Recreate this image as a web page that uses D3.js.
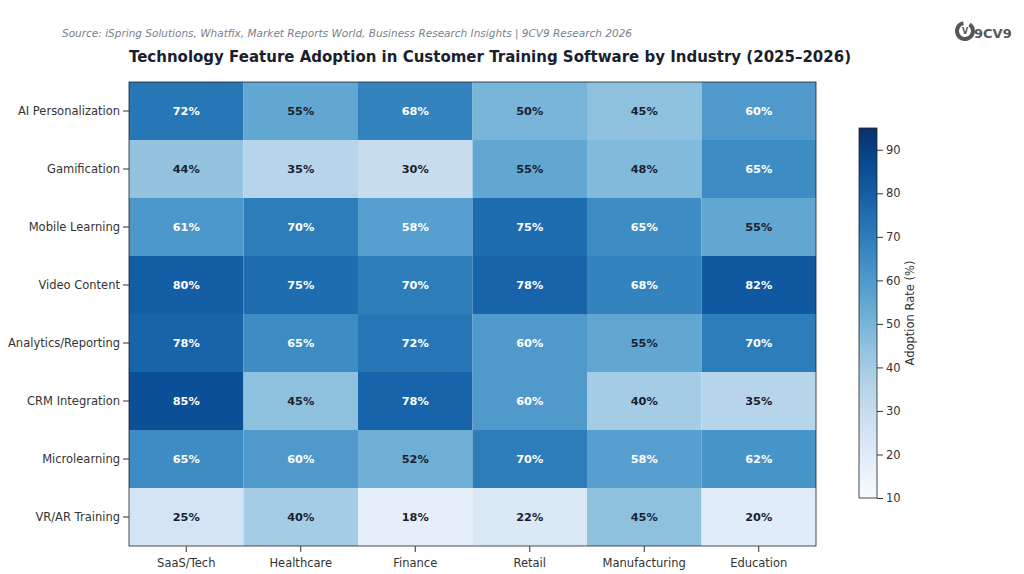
<!DOCTYPE html>
<html><head><meta charset="utf-8">
<script src="https://cdn.jsdelivr.net/npm/d3@7"></script>
<style>body{margin:0;background:#fff;font-family:"DejaVu Sans",sans-serif}</style>
</head><body><svg id="c" width="1024" height="574"></svg>
<script>
const features = ["AI Personalization","Gamification","Mobile Learning","Video Content","Analytics/Reporting","CRM Integration","Microlearning","VR/AR Training"];
const industries = ["SaaS/Tech","Healthcare","Finance","Retail","Manufacturing","Education"];
const values = [
  [72,55,68,50,45,60],
  [44,35,30,55,48,65],
  [61,70,58,75,65,55],
  [80,75,70,78,68,82],
  [78,65,72,60,55,70],
  [85,45,78,60,40,35],
  [65,60,52,70,58,62],
  [25,40,18,22,45,20]
];
const cbTicks = [10,20,30,40,50,60,70,80,90];

const svg = d3.select("#c");
const x = d3.scaleBand().domain(industries).range([129,816]);
const y = d3.scaleBand().domain(features).range([82,546]);
const color = d3.scaleSequential(d3.interpolateBlues).domain([10,95]);

svg.append("text").attr("x",62).attr("y",37).attr("font-size",10.5).attr("font-style","italic")
  .attr("fill","#7a7f8c").text("Source: iSpring Solutions, Whatfix, Market Reports World, Business Research Insights | 9CV9 Research 2026");
svg.append("text").attr("x",490).attr("y",62).attr("text-anchor","middle").attr("font-size",15).attr("font-weight","bold")
  .attr("fill","#1a1f2e").text("Technology Feature Adoption in Customer Training Software by Industry (2025–2026)");

// logo
const lg = svg.append("g").attr("transform","translate(965,31)");
lg.append("path").attr("d",d3.arc()({innerRadius:6,outerRadius:10,startAngle:0.6,endAngle:2*Math.PI-0.2})).attr("fill","#5a5555");
lg.append("text").attr("x",0).attr("y",3).attr("text-anchor","middle").attr("font-size",8).attr("font-weight","bold").attr("fill","#5a5555").text("V");
lg.append("text").attr("x",9).attr("y",7).attr("font-size",13).attr("font-weight","bold").attr("fill","#5a5555").text("9CV9");

const cells = [];
values.forEach((r,i)=>r.forEach((v,j)=>cells.push({f:features[i],ind:industries[j],v})));
svg.append("g").selectAll("rect").data(cells).join("rect")
  .attr("x",d=>x(d.ind)).attr("y",d=>y(d.f)).attr("width",x.bandwidth()).attr("height",y.bandwidth())
  .attr("fill",d=>color(d.v));
svg.append("g").selectAll("text").data(cells).join("text")
  .attr("x",d=>x(d.ind)+x.bandwidth()/2).attr("y",d=>y(d.f)+y.bandwidth()/2+4)
  .attr("text-anchor","middle").attr("font-size",11.3).attr("font-weight","bold")
  .attr("fill",d=>d.v>56?"#fff":"#1a1f2e").text(d=>d.v+"%");
svg.append("rect").attr("x",129).attr("y",82).attr("width",687).attr("height",464).attr("fill","none").attr("stroke","#222").attr("stroke-width",0.8);

const ax = svg.append("g").attr("transform","translate(0,546)").call(d3.axisBottom(x).tickSizeOuter(0));
const ay = svg.append("g").attr("transform","translate(129,0)").call(d3.axisLeft(y).tickSizeOuter(0));
[ax,ay].forEach(a=>{a.attr("font-size",11.5).attr("font-family","DejaVu Sans");a.select(".domain").remove();a.selectAll("text").attr("fill","#333");a.selectAll("line").attr("stroke","#333");});
ax.selectAll("text").attr("dy","1em");

// colorbar
const cy = d3.scaleLinear().domain([10,95]).range([498,128]);
const defs = svg.append("defs");
const gr = defs.append("linearGradient").attr("id","cb").attr("x1",0).attr("y1",1).attr("x2",0).attr("y2",0);
d3.range(0,1.01,0.1).forEach(t=>gr.append("stop").attr("offset",t).attr("stop-color",d3.interpolateBlues(t)));
svg.append("rect").attr("x",859).attr("y",128).attr("width",18).attr("height",370).attr("fill","url(#cb)").attr("stroke","#222").attr("stroke-width",0.8);
const ac = svg.append("g").attr("transform","translate(877,0)")
  .call(d3.axisRight(cy).tickValues(cbTicks).tickSizeOuter(0));
ac.attr("font-size",11.5).attr("font-family","DejaVu Sans");
ac.select(".domain").remove();
ac.selectAll("text").attr("fill","#333");
ac.selectAll("line").attr("stroke","#333");
svg.append("text").attr("transform","translate(914,313) rotate(-90)").attr("text-anchor","middle").attr("font-size",11.5)
  .attr("fill","#333").text("Adoption Rate (%)");
</script></body></html>
